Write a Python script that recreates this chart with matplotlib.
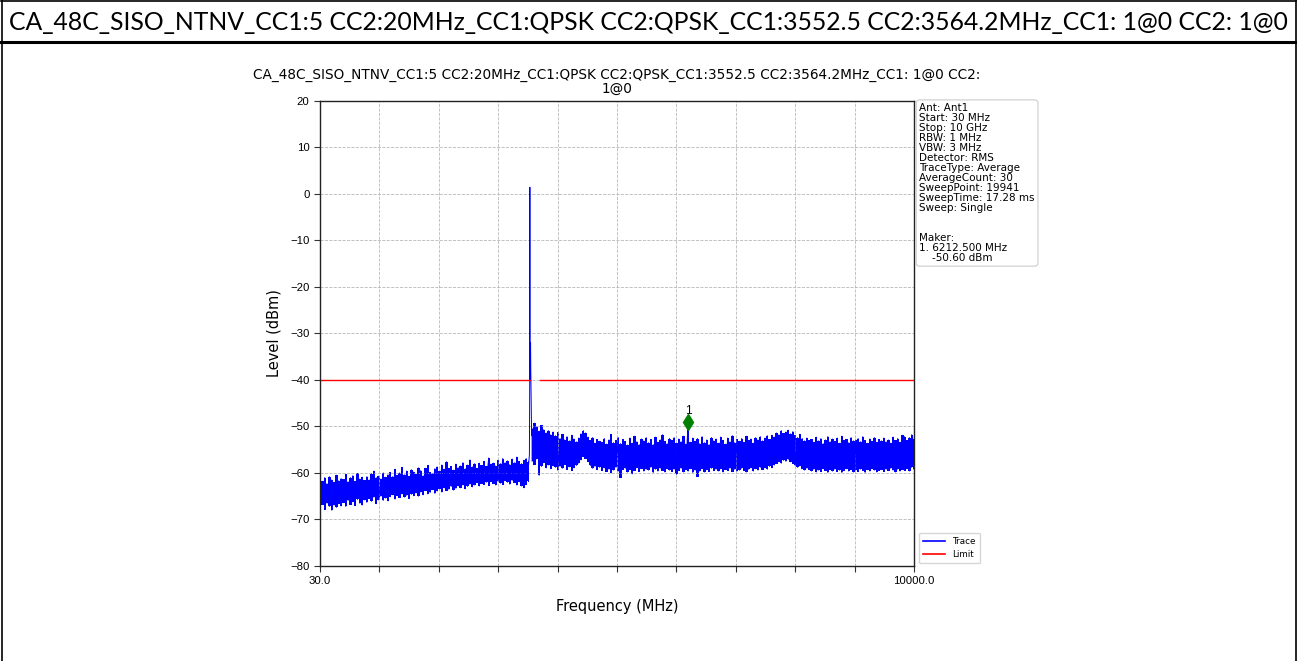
import numpy as np
import matplotlib
matplotlib.use("Agg")
import matplotlib.pyplot as plt
from matplotlib import font_manager
from matplotlib.lines import Line2D

# ---------------- data ----------------
header_title = "CA_48C_SISO_NTNV_CC1:5 CC2:20MHz_CC1:QPSK CC2:QPSK_CC1:3552.5 CC2:3564.2MHz_CC1: 1@0 CC2: 1@0"
plot_title = ("CA_48C_SISO_NTNV_CC1:5 CC2:20MHz_CC1:QPSK CC2:QPSK_CC1:3552.5 "
              "CC2:3564.2MHz_CC1: 1@0 CC2:\n1@0")

start_mhz = 30.0
stop_mhz = 10000.0

# below-carrier noise band (30 -> 3530 MHz), upper / lower edge of the trace (dBm)
band_a_start, band_a_stop = 30.0, 3530.0
band_a_high = [
    -60.2, -61.8, -61.0, -62.3, -60.8, -61.5, -62.0, -60.5, -61.7, -61.2,
    -61.4, -60.3, -61.9, -61.0, -60.6, -61.8, -60.1, -61.3, -60.9, -61.6,
    -60.8, -61.5, -60.2, -59.6, -61.0, -60.7, -61.3, -60.0, -60.9, -60.4,
    -59.9, -60.8, -59.2, -60.5, -60.0, -58.8, -60.4, -59.6, -60.7, -59.3,
    -59.8, -60.3, -58.9, -59.5, -60.6, -59.0, -58.4, -59.9, -60.2, -59.1,
    -58.7, -59.6, -58.3, -59.2, -57.6, -59.0, -58.6, -59.4, -58.1, -58.9,
    -58.5, -57.8, -59.1, -58.3, -57.2, -58.7, -58.0, -59.0, -57.9, -58.4,
    -57.5, -58.6, -56.8, -58.1, -57.9, -58.5, -57.3, -58.0, -56.9, -57.8,
    -57.4, -58.2, -57.0, -57.8, -56.6, -57.5, -58.0, -57.3, -56.9, -57.6,
]
band_a_low = [
    -67.5, -66.8, -67.9, -66.5, -67.2, -68.0, -66.9, -67.4, -66.6, -67.1,
    -66.4, -67.2, -65.9, -66.8, -66.2, -67.0, -65.7, -66.5, -66.9, -65.8,
    -66.3, -65.5, -66.1, -65.2, -66.6, -65.8, -65.0, -65.9, -65.4, -66.0,
    -65.1, -64.7, -65.6, -64.9, -65.3, -64.5, -65.2, -64.8, -65.5, -64.6,
    -64.9, -64.3, -65.0, -64.1, -64.7, -63.8, -64.5, -64.2, -63.6, -64.4,
    -63.9, -63.4, -64.1, -63.2, -63.8, -63.5, -62.9, -63.7, -63.3, -62.8,
    -63.2, -62.6, -63.4, -62.9, -62.4, -63.0, -62.6, -62.1, -62.8, -62.3,
    -62.5, -62.0, -62.7, -61.9, -62.3, -62.6, -61.8, -62.2, -62.5, -61.7,
    -62.0, -62.4, -61.6, -62.1, -62.6, -61.9, -62.8, -63.2, -62.5, -61.8,
]

# carrier (CC1 3552.5 MHz, CC2 3564.2 MHz)
carrier_freq = [3530.0, 3545.0, 3550.0, 3552.5, 3555.0, 3560.0, 3564.2, 3568.0, 3575.0, 3582.0, 3590.0]
carrier_level = [-58.5, -56.0, -40.0, 1.4, -40.0, -34.0, -32.0, -38.0, -46.0, -52.0, -50.5]

# above-carrier noise band (3590 -> 10000 MHz)
band_b_start, band_b_stop = 3590.0, 10000.0
band_b_high = [
    -50.5, -49.3, -50.1, -51.0, -49.8, -50.7, -51.4, -50.9, -51.8, -51.2,
    -52.0, -51.3, -52.6, -51.7, -52.9, -52.2, -53.1, -51.9, -52.7, -53.3,
    -52.5, -51.6, -50.9, -51.4, -52.3, -53.0, -52.4, -53.6, -52.8, -53.2,
    -53.4, -52.6, -53.8, -52.9, -51.7, -53.5, -53.0, -52.4, -53.7, -52.8,
    -53.2, -54.0, -52.5, -53.6, -52.1, -53.3, -53.9, -52.7, -53.1, -52.4,
    -53.5, -52.8, -53.9, -52.3, -53.4, -52.9, -51.8, -53.2, -53.7, -52.6,
    -53.0, -52.4, -53.6, -52.7, -53.3, -52.1, -53.8, -49.1, -53.4, -52.5,
    -53.2, -52.6, -53.7, -52.2, -53.5, -52.9, -53.9, -52.4, -53.1, -52.7,
    -53.6, -52.3, -53.0, -53.8, -52.5, -53.3, -52.0, -53.5, -52.8, -53.2,
    -52.6, -53.4, -52.1, -53.0, -52.7, -53.6, -52.4, -52.9, -52.2, -53.1,
    -52.5, -52.0, -52.8, -51.9, -52.3, -51.4, -51.8, -50.9, -51.5, -51.2,
    -50.8, -51.6, -51.1, -51.9, -52.4, -51.7, -52.6, -53.1, -52.5, -53.0,
    -52.8, -53.4, -52.3, -53.1, -52.6, -53.7, -52.9, -52.2, -53.3, -52.7,
    -53.2, -52.5, -53.6, -52.1, -53.0, -52.8, -53.5, -52.4, -53.1, -52.9,
    -52.6, -53.3, -52.2, -53.0, -53.6, -52.7, -53.2, -52.4, -53.4, -52.8,
    -53.1, -52.5, -53.3, -52.9, -53.6, -52.3, -53.0, -52.6, -53.4, -51.9,
    -52.2, -53.0, -52.4, -51.8, -52.7,
]
band_b_low = [
    -57.5, -58.2, -57.0, -60.5, -58.6, -57.8, -58.9, -58.3, -59.1, -58.5,
    -58.8, -59.4, -58.6, -59.0, -58.2, -59.3, -58.7, -59.5, -58.9, -58.4,
    -57.9, -57.2, -56.5, -56.9, -57.6, -58.4, -59.0, -58.6, -59.3, -58.8,
    -59.5, -58.9, -59.7, -59.2, -60.0, -59.4, -58.8, -59.6, -61.0, -59.3,
    -59.0, -59.8, -59.3, -60.2, -59.5, -58.9, -59.7, -59.1, -59.6, -59.2,
    -59.4, -58.8, -59.9, -59.2, -59.6, -59.0, -59.5, -59.8, -59.1, -59.4,
    -59.7, -59.2, -60.3, -59.5, -59.0, -59.8, -59.3, -59.6, -59.1, -59.9,
    -59.4, -60.8, -59.6, -59.1, -59.8, -59.3, -59.7, -59.0, -59.5, -59.2,
    -59.6, -59.1, -59.8, -59.3, -59.5, -59.0, -59.7, -59.2, -59.6, -59.4,
    -59.0, -59.5, -59.8, -59.2, -58.9, -59.6, -59.1, -59.4, -58.8, -59.3,
    -58.9, -59.2, -58.6, -58.9, -58.3, -58.0, -57.6, -57.9, -57.3, -57.5,
    -57.1, -57.6, -58.0, -58.4, -58.8, -58.5, -59.1, -59.4, -59.0, -59.3,
    -59.6, -59.2, -59.8, -59.4, -59.7, -59.1, -59.5, -59.9, -59.3, -59.6,
    -59.2, -59.7, -59.4, -59.9, -59.5, -59.1, -59.6, -59.3, -59.8, -59.4,
    -59.7, -59.2, -59.5, -59.9, -59.3, -59.6, -59.1, -59.4, -59.8, -59.5,
    -59.3, -59.7, -59.2, -59.5, -59.0, -59.4, -59.8, -59.2, -59.6, -59.3,
    -59.5, -59.1, -59.6, -58.8, -59.2,
]

limit_freq = [30.0, 3550.0, np.nan, 3730.0, 10000.0]
limit_level = [-40.0, -40.0, np.nan, -40.0, -40.0]

marker_freq = 6212.5
marker_level = -49.1
marker_label = "1"

y_ticks = [20, 10, 0, -10, -20, -30, -40, -50, -60, -70, -80]
x_tick_labels = ["30.0", "", "", "", "", "", "", "", "", "", "10000.0"]

info_lines = [
    "Ant: Ant1", "Start: 30 MHz", "Stop: 10 GHz", "RBW: 1 MHz", "VBW: 3 MHz",
    "Detector: RMS", "TraceType: Average", "AverageCount: 30", "SweepPoint: 19941",
    "SweepTime: 17.28 ms", "Sweep: Single", "", "", "Maker:", "1. 6212.500 MHz",
    "    -50.60 dBm",
]

# ---------------- fonts ----------------
names = {f.name for f in font_manager.fontManager.ttflist}
plot_font = "Liberation Sans" if "Liberation Sans" in names else "DejaVu Sans"
wide_font = "DejaVu Sans"
header_font = "Lato" if "Lato" in names else plot_font
plt.rcParams["font.family"] = [plot_font, "DejaVu Sans"]
plt.rcParams["axes.unicode_minus"] = True

W, H = 1297, 661
fig = plt.figure(figsize=(W / 100, H / 100), dpi=100)
fig.patch.set_facecolor("white")

def fx(px):
    return px / W

def fy(py):
    return 1 - py / H

# table-like frame
for (x0, y0, x1, y1, lw) in [(1, 0.5, 1296, 0.5, 1.2), (1.5, 0, 1.5, H, 1.2),
                              (1295.5, 0, 1295.5, H, 1.2), (0, 42, W, 42, 2.2)]:
    fig.add_artist(Line2D([fx(x0), fx(x1)], [fy(y0), fy(y1)], color="black", lw=lw))

ht = fig.text(fx(648), fy(22), header_title, ha="center", va="center",
              fontsize=14, family=[header_font, "DejaVu Sans"])
fig.canvas.draw()
bb = ht.get_window_extent()
ht.set_fontsize(14 * 1282 / bb.width)

# ---------------- axes ----------------
ax = fig.add_axes([fx(320), fy(566), fx(914) - fx(320), fy(100.7) - fy(566)])

fa = np.linspace(band_a_start, band_a_stop, len(band_a_high))
fb = np.linspace(band_b_start, band_b_stop, len(band_b_high))
xa = np.repeat(fa, 2)
ya = np.column_stack([band_a_high, band_a_low]).ravel()
xb = np.repeat(fb, 2)
yb = np.column_stack([band_b_high, band_b_low]).ravel()
tx = np.concatenate([xa, carrier_freq, xb])
ty = np.concatenate([ya, carrier_level, yb])

# dense trace: filled envelope plus the sweep line
ax.fill_between(fa, band_a_low, band_a_high, color="blue", lw=0, step="mid")
ax.fill_between(fb, band_b_low, band_b_high, color="blue", lw=0, step="mid")
ax.plot(tx, ty, color="blue", lw=0.7, label="Trace")
ax.plot(limit_freq, limit_level, color="red", lw=1.0, label="Limit")
ax.plot([marker_freq], [marker_level], marker="d", color="green", ms=8, ls="none")
ax.text(marker_freq, marker_level + 1.2, marker_label, ha="center", va="bottom", fontsize=8.5)

ax.set_xlim(start_mhz, stop_mhz)
ax.set_ylim(-80, 20)
ax.set_xticks(np.linspace(start_mhz, stop_mhz, len(x_tick_labels)))
ax.set_xticklabels(x_tick_labels)
ax.set_yticks(y_ticks)
ax.tick_params(labelsize=8.2, length=4, color="#333333")
ax.grid(True, linestyle="--", color="#b8b8b8", lw=0.6)
for s in ax.spines.values():
    s.set_linewidth(1.0)
    s.set_color("#222222")

ax.set_xlabel("Frequency (MHz)", fontsize=10.5, labelpad=9, family=[wide_font])
ax.set_ylabel("Level (dBm)", fontsize=10.5, labelpad=6, family=[wide_font])
ax.set_title(plot_title, fontsize=9.8, pad=6, family=[wide_font], linespacing=0.9)

ax.text(1.009, 0.995, "\n".join(info_lines), transform=ax.transAxes, ha="left", va="top",
        fontsize=7.5, linespacing=1.0, family=[wide_font],
        bbox=dict(boxstyle="round,pad=0.3", fc="white", ec="#cccccc", lw=0.8))

leg = ax.legend(loc="lower left", bbox_to_anchor=(1.004, 0.0),
                prop={"family": wide_font, "size": 6.3}, frameon=True,
                handlelength=2.5, borderpad=0.5, labelspacing=0.45, borderaxespad=0.3)
leg.get_frame().set_edgecolor("#cccccc")
for h in leg.get_lines():
    h.set_linewidth(1.2)

fig.savefig("out.png", dpi=100)
